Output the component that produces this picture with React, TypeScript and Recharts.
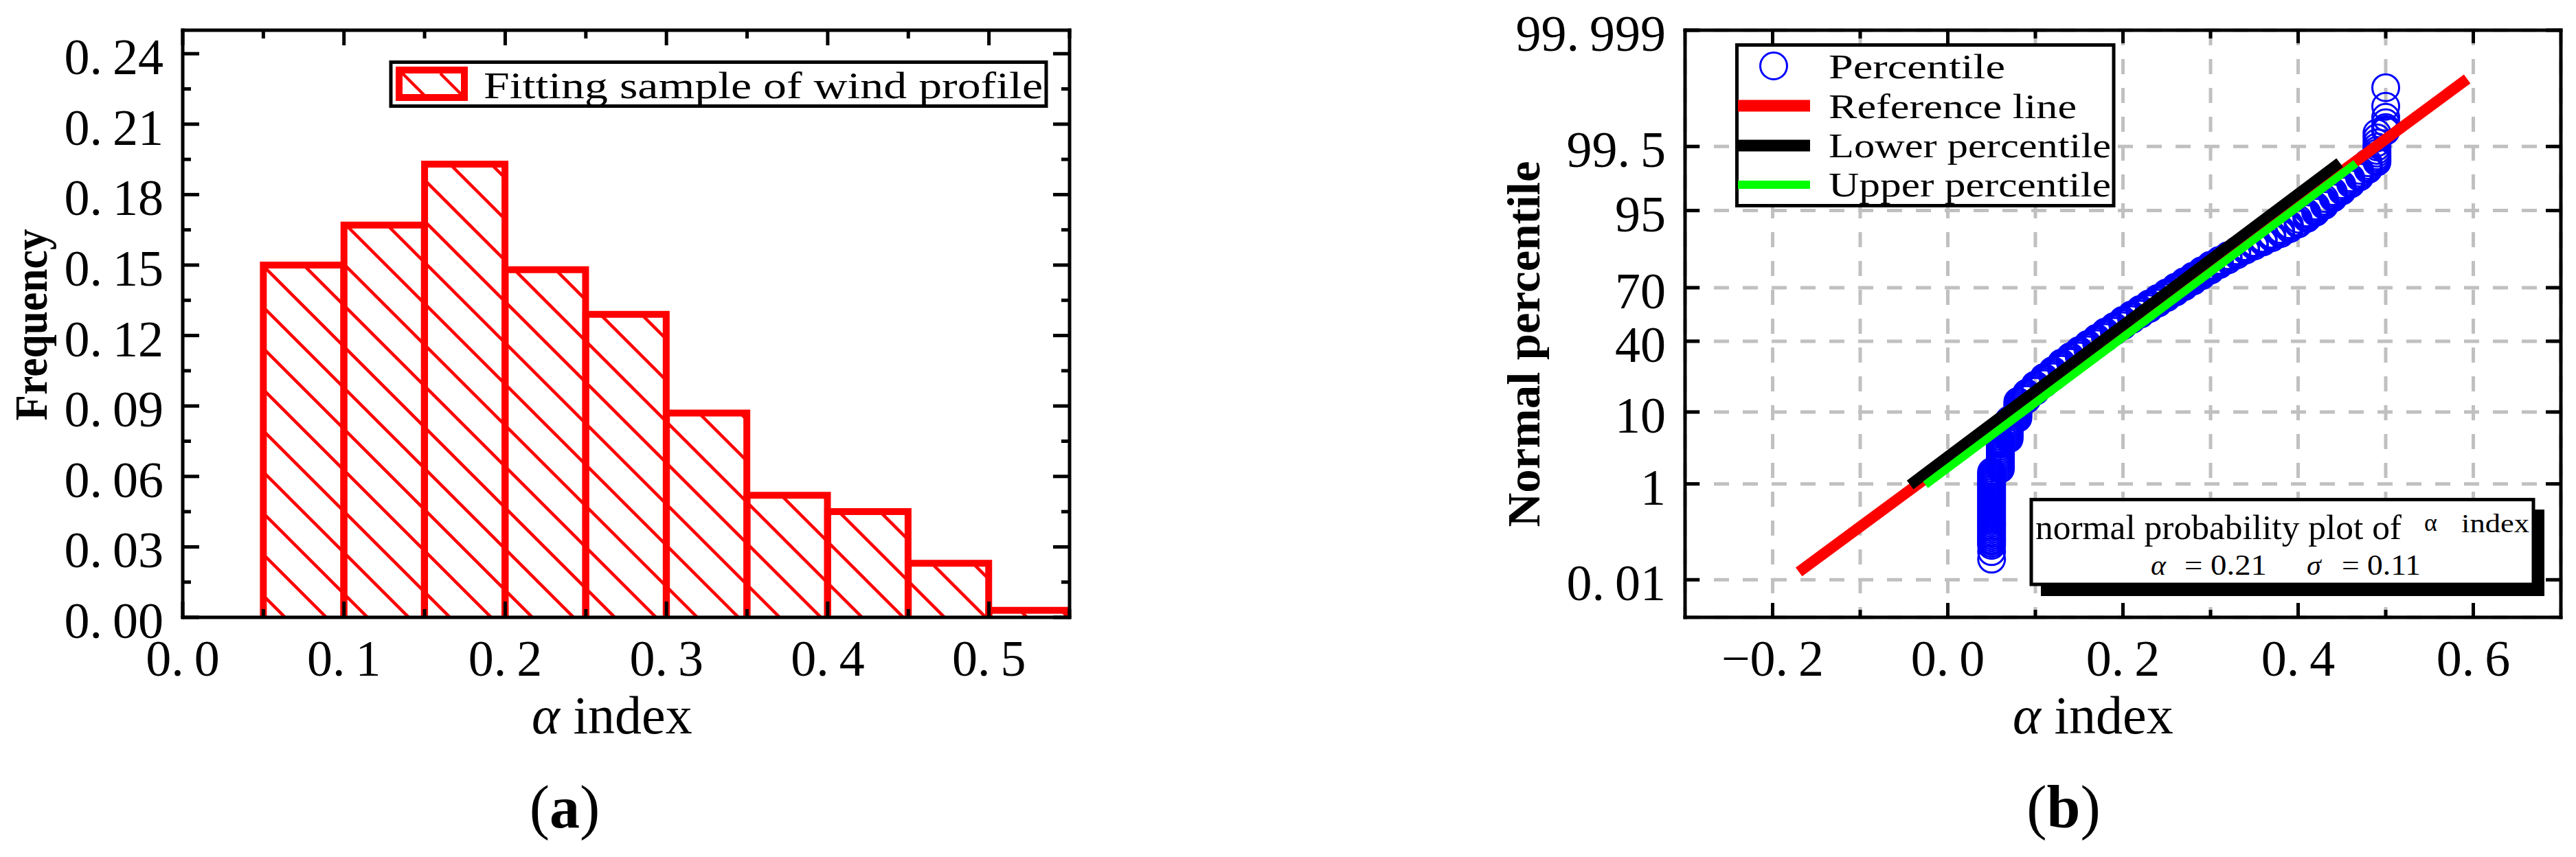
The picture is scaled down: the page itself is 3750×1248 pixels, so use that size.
import React from 'react';
import { ComposedChart, Bar, XAxis, YAxis, Scatter, Line, CartesianGrid } from 'recharts';

const SERIF = '"Liberation Serif", "DejaVu Serif", serif';

// ---------- Panel (a): histogram ----------
const binCenters = [0.075, 0.125, 0.175, 0.225, 0.275, 0.325, 0.375, 0.425, 0.475, 0.525];
const binFrequency = [0.150, 0.167, 0.193, 0.148, 0.129, 0.087, 0.052, 0.045, 0.023, 0.003];
const histXTicks = [0, 0.05, 0.1, 0.15, 0.2, 0.25, 0.3, 0.35, 0.4, 0.45, 0.5, 0.55];
const histXLabels = ['0.0', '', '0.1', '', '0.2', '', '0.3', '', '0.4', '', '0.5', ''];
const histYTicks = [0, 0.015, 0.03, 0.045, 0.06, 0.075, 0.09, 0.105, 0.12, 0.135, 0.15, 0.165, 0.18, 0.195, 0.21, 0.225, 0.24];
const histYLabels = ['0.00', '', '0.03', '', '0.06', '', '0.09', '', '0.12', '', '0.15', '', '0.18', '', '0.21', '', '0.24'];

// ---------- Panel (b): normal probability plot ----------
const probAlpha = [0.05, 0.06, 0.07, 0.08, 0.09, 0.10, 0.11, 0.12, 0.13, 0.14, 0.15, 0.16, 0.17, 0.18, 0.19, 0.20, 0.21, 0.22, 0.23, 0.24, 0.25, 0.26, 0.27, 0.28, 0.29, 0.30, 0.31, 0.32, 0.33, 0.34, 0.35, 0.36, 0.37, 0.38, 0.39, 0.40, 0.41, 0.42, 0.43, 0.44, 0.45, 0.46, 0.47, 0.48, 0.49, 0.50];
const probZ = [
  [-3.42, -3.31, -3.22, -3.19, -3.16, -3.14, -3.11, -3.08, -3.05, -3.02, -2.99, -2.96, -2.93, -2.90, -2.87, -2.84, -2.81, -2.78, -2.75, -2.72, -2.69, -2.66, -2.63, -2.60, -2.57, -2.54, -2.51, -2.48, -2.45, -2.42, -2.39, -2.36, -2.33, -2.30, -2.27, -2.24, -2.21, -2.18, -2.15],
  [-2.11, -2.08, -2.05, -2.02, -1.99, -1.96, -1.93, -1.90, -1.87, -1.84, -1.81, -1.78, -1.75, -1.72, -1.69],
  [-1.67, -1.64, -1.61, -1.58, -1.55, -1.52, -1.49, -1.46, -1.43, -1.40],
  [-1.37, -1.34, -1.31, -1.28, -1.25, -1.22, -1.19, -1.16, -1.13],
  [-1.10, -1.07, -1.04, -1.01],
  [-0.98, -0.95, -0.92, -0.89],
  [-0.87, -0.84, -0.81, -0.78],
  [-0.77, -0.74, -0.71, -0.68],
  [-0.66, -0.63, -0.60, -0.57],
  [-0.56, -0.53, -0.50, -0.48],
  [-0.47, -0.44, -0.41, -0.39],
  [-0.38, -0.35, -0.32, -0.30],
  [-0.29, -0.26, -0.23, -0.21],
  [-0.20, -0.17, -0.14, -0.12],
  [-0.11, -0.08, -0.06, -0.04],
  [-0.03, 0.00, 0.03, 0.05],
  [0.06, 0.09, 0.11, 0.13],
  [0.14, 0.17, 0.19, 0.21],
  [0.22, 0.25, 0.27, 0.29],
  [0.30, 0.33, 0.35, 0.37],
  [0.38, 0.41, 0.43, 0.45],
  [0.46, 0.49, 0.51, 0.53],
  [0.54, 0.57, 0.59, 0.61],
  [0.62, 0.65, 0.67, 0.69],
  [0.70, 0.73, 0.75, 0.77],
  [0.78, 0.81, 0.83, 0.85],
  [0.86, 0.89, 0.92],
  [0.93, 0.96, 0.99],
  [1.00, 1.03, 1.06],
  [1.07, 1.10, 1.12],
  [1.13, 1.16, 1.18],
  [1.19, 1.22, 1.24],
  [1.25, 1.28, 1.30],
  [1.31, 1.34, 1.37],
  [1.38, 1.41, 1.44],
  [1.45, 1.48, 1.52],
  [1.53, 1.56, 1.59, 1.61],
  [1.62, 1.65, 1.68, 1.71],
  [1.72, 1.75, 1.78, 1.82],
  [1.83, 1.86, 1.89, 1.92],
  [1.93, 1.96, 1.99, 2.02],
  [2.03, 2.06, 2.09, 2.12],
  [2.13, 2.16, 2.19, 2.23],
  [2.24, 2.27, 2.30, 2.34],
  [2.35, 2.38, 2.41, 2.44, 2.48, 2.52, 2.57, 2.63, 2.70, 2.77],
  [2.80, 2.82, 2.85, 2.92, 3.00, 3.16, 3.43],
];
const referenceLine = [{ x: -0.170, y: -3.605 }, { x: 0.593, y: 3.556 }];
const lowerPercentileLine = [{ x: -0.043, y: -2.34 }, { x: 0.4475, y: 2.34 }];
const upperPercentileLine = [{ x: -0.0255, y: -2.34 }, { x: 0.466, y: 2.33 }];
const probXTicks = [-0.2, -0.1, 0, 0.1, 0.2, 0.3, 0.4, 0.5, 0.6];
const probXLabels = ['\u22120.2', '', '0.0', '', '0.2', '', '0.4', '', '0.6'];
const probYTicks = [-3.719, -2.326, -1.2816, -0.2533, 0.5244, 1.6449, 2.5758, 4.2649];
const probYLabels = ['0.01', '1', '10', '40', '70', '95', '99.5', '99.999'];

const histData = binCenters.map((x, i) => ({ x, f: binFrequency[i] }));
const percentilePoints = probAlpha.flatMap((a, i) => probZ[i].map((z) => ({ x: a, y: z })));

// ---------- helpers ----------
const TickText = ({ text, ...rest }: any) => {
  const i = text.indexOf('.');
  if (i < 0) return <text {...rest}>{text}</text>;
  return (
    <text {...rest}>
      {text.slice(0, i + 1)}
      <tspan dx={15}>{text.slice(i + 1)}</tspan>
    </text>
  );
};

type Side = 'bottom' | 'top' | 'left' | 'right';
const makeTick = (side: Side, ticks: number[], labels: string[], majorLen: number, minorLen: number, showLabel: boolean) =>
  (props: any) => {
    const { x, y, payload } = props;
    const v = payload.value;
    const idx = ticks.findIndex((t) => Math.abs(t - v) < 1e-9);
    const label = idx >= 0 ? labels[idx] : '';
    const len = label !== '' ? majorLen : minorLen;
    let line;
    if (side === 'bottom') line = <line x1={x} x2={x} y1={y} y2={y - len} />;
    else if (side === 'top') line = <line x1={x} x2={x} y1={y} y2={y + len} />;
    else if (side === 'left') line = <line x1={x} x2={x + len} y1={y} y2={y} />;
    else line = <line x1={x} x2={x - len} y1={y} y2={y} />;
    return (
      <g>
        <g stroke="#000" strokeWidth={5}>{line}</g>
        {showLabel && label !== '' && side === 'bottom' && (
          <TickText text={label} x={x} y={y + 85} textAnchor="middle" fontFamily={SERIF} fontSize={74} fill="#000" stroke="none" />
        )}
        {showLabel && label !== '' && side === 'left' && (
          <TickText text={label} x={x - 28} y={y + 30} textAnchor="end" fontFamily={SERIF} fontSize={74} fill="#000" stroke="none" />
        )}
      </g>
    );
  };

const axisLineStyle = { stroke: '#000', strokeWidth: 5, strokeLinecap: 'square' as const };

const HatchBar = (props: any) => {
  const { x, y, width, height } = props;
  if (width == null || height == null) return null;
  return (
    <g>
      <rect x={x} y={y} width={width} height={height} fill="url(#hatchA)" />
      <path
        d={`M${x},${y + height} L${x},${y} L${x + width},${y} L${x + width},${y + height}`}
        fill="none"
        stroke="#ff0000"
        strokeWidth={10}
      />
    </g>
  );
};

const RingShape = (props: any) => (
  <circle cx={props.cx} cy={props.cy} r={19.5} fill="none" stroke="#0000ff" strokeWidth={3} />
);

// ---------- charts ----------
// each axis has a 1px box so that it renders; margins compensate so plot areas match the reference
const HistogramChart = () => (
  <ComposedChart
    width={1650}
    height={1248}
    data={histData}
    margin={{ top: 43, right: 92, bottom: 348, left: 265 }}
    barCategoryGap={0}
    barGap={0}
  >
    <XAxis dataKey="x" type="number" domain={[0, 0.55]} allowDataOverflow ticks={histXTicks} interval={0}
      height={1} tickSize={0} tickMargin={0} tickLine={false} axisLine={axisLineStyle}
      tick={makeTick('bottom', histXTicks, histXLabels, 23, 12, true)} />
    <XAxis xAxisId="top" orientation="top" dataKey="x" type="number" domain={[0, 0.55]} allowDataOverflow ticks={histXTicks} interval={0}
      height={1} tickSize={0} tickMargin={0} tickLine={false} axisLine={axisLineStyle}
      tick={makeTick('top', histXTicks, histXLabels, 22, 12, false)} />
    <YAxis type="number" domain={[0, 0.25]} allowDataOverflow ticks={histYTicks} interval={0}
      width={1} tickSize={0} tickMargin={0} tickLine={false} axisLine={axisLineStyle}
      tick={makeTick('left', histYTicks, histYLabels, 24, 12, true)} />
    <YAxis yAxisId="right" orientation="right" type="number" domain={[0, 0.25]} allowDataOverflow ticks={histYTicks} interval={0}
      width={1} tickSize={0} tickMargin={0} tickLine={false} axisLine={axisLineStyle}
      tick={makeTick('right', histYTicks, histYLabels, 24, 12, false)} />
    <Bar dataKey="f" isAnimationActive={false} shape={HatchBar} />
  </ComposedChart>
);

const ProbabilityChart = () => (
  <ComposedChart
    width={1650}
    height={1248}
    margin={{ top: 43, right: 21, bottom: 348, left: 352 }}
  >
    <CartesianGrid stroke="#c0c0c0" strokeWidth={5} strokeDasharray="22 20" />
    <XAxis dataKey="x" type="number" domain={[-0.3, 0.7]} allowDataOverflow ticks={probXTicks} interval={0}
      height={1} tickSize={0} tickMargin={0} tickLine={false} axisLine={axisLineStyle}
      tick={makeTick('bottom', probXTicks, probXLabels, 21, 11, true)} />
    <XAxis xAxisId="top" orientation="top" dataKey="x" type="number" domain={[-0.3, 0.7]} allowDataOverflow ticks={probXTicks} interval={0}
      height={1} tickSize={0} tickMargin={0} tickLine={false} axisLine={axisLineStyle}
      tick={makeTick('top', probXTicks, probXLabels, 19, 12, false)} />
    <YAxis dataKey="y" type="number" domain={[-4.2649, 4.2649]} allowDataOverflow ticks={probYTicks} interval={0}
      width={1} tickSize={0} tickMargin={0} tickLine={false} axisLine={axisLineStyle}
      tick={makeTick('left', probYTicks, probYLabels, 21, 21, true)} />
    <YAxis yAxisId="right" orientation="right" dataKey="y" type="number" domain={[-4.2649, 4.2649]} allowDataOverflow ticks={probYTicks} interval={0}
      width={1} tickSize={0} tickMargin={0} tickLine={false} axisLine={axisLineStyle}
      tick={makeTick('right', probYTicks, probYLabels, 22, 22, false)} />
    <Scatter data={percentilePoints} dataKey="y" isAnimationActive={false} shape={RingShape} zIndex={350} />
    <Line data={referenceLine} dataKey="y" type="linear" stroke="#ff0000" strokeWidth={16} dot={false} activeDot={false} isAnimationActive={false} zIndex={700} />
    <Line data={lowerPercentileLine} dataKey="y" type="linear" stroke="#000000" strokeWidth={16} dot={false} activeDot={false} isAnimationActive={false} zIndex={710} />
    <Line data={upperPercentileLine} dataKey="y" type="linear" stroke="#00ff00" strokeWidth={12} dot={false} activeDot={false} isAnimationActive={false} zIndex={720} />
  </ComposedChart>
);

const Overlay = () => (
  <svg width={3750} height={1248} style={{ position: 'absolute', left: 0, top: 0, pointerEvents: 'none' }}>
    {/* axis titles panel (a) */}
    <text transform="translate(68,473) rotate(-90)" textAnchor="middle" fontFamily={SERIF} fontWeight="bold" fontSize={68}
      textLength={279} lengthAdjust="spacingAndGlyphs" fill="#000">Frequency</text>
    <text x={774} y={1068} fontFamily={SERIF} fontSize={78} fill="#000">
      <tspan fontStyle="italic">α</tspan> index
    </text>
    <text x={822} y={1205} textAnchor="middle" fontFamily={SERIF} fontSize={88} fill="#000">
      (<tspan fontWeight="bold">a</tspan>)
    </text>

    {/* legend panel (a) */}
    <rect x={569} y={90.5} width={954} height={64} fill="#fff" stroke="#000" strokeWidth={5} />
    <g stroke="#ff0000" strokeWidth={4.5}>
      <line x1={586} y1={107} x2={619} y2={140} />
      <line x1={641} y1={107} x2={674} y2={140} />
    </g>
    <rect x={581} y={102} width={95} height={40} fill="none" stroke="#ff0000" strokeWidth={10} />
    <text x={704} y={143} fontFamily={SERIF} fontSize={54} textLength={814} lengthAdjust="spacingAndGlyphs" fill="#000">
      Fitting sample of wind profile
    </text>

    {/* axis titles panel (b) */}
    <text transform="translate(2241,501) rotate(-90)" textAnchor="middle" fontFamily={SERIF} fontWeight="bold" fontSize={68}
      textLength={533} lengthAdjust="spacingAndGlyphs" fill="#000">Normal percentile</text>
    <text x={2930} y={1068} fontFamily={SERIF} fontSize={78} fill="#000">
      <tspan fontStyle="italic">α</tspan> index
    </text>
    <text x={3004} y={1205} textAnchor="middle" fontFamily={SERIF} fontSize={88} fill="#000">
      (<tspan fontWeight="bold">b</tspan>)
    </text>

    {/* legend panel (b) */}
    <rect x={2528.5} y={65.5} width={548.5} height={234} fill="#fff" stroke="#000" strokeWidth={5} />
    <circle cx={2582} cy={96} r={19.5} fill="none" stroke="#0000ff" strokeWidth={3} />
    <line x1={2530} x2={2635} y1={154} y2={154} stroke="#ff0000" strokeWidth={17} />
    <line x1={2530} x2={2635} y1={212} y2={212} stroke="#000000" strokeWidth={17} />
    <line x1={2530} x2={2635} y1={269} y2={269} stroke="#00ff00" strokeWidth={12} />
    <g fontFamily={SERIF} fontSize={51} fill="#000">
      <text x={2662} y={114} textLength={257} lengthAdjust="spacingAndGlyphs">Percentile</text>
      <text x={2662} y={172} textLength={361} lengthAdjust="spacingAndGlyphs">Reference line</text>
      <text x={2662} y={229} textLength={411} lengthAdjust="spacingAndGlyphs">Lower percentile</text>
      <text x={2662} y={286} textLength={411} lengthAdjust="spacingAndGlyphs">Upper percentile</text>
    </g>

    {/* statistics box panel (b) */}
    <rect x={2971} y={742} width={733} height={126} fill="#000" />
    <rect x={2957} y={727.5} width={731} height={123.5} fill="#fff" stroke="#000" strokeWidth={5} />
    <g fontFamily={SERIF} fill="#000">
      <text x={2963} y={785} fontSize={50} textLength={533} lengthAdjust="spacingAndGlyphs">normal probability plot of</text>
      <text x={3529} y={773} fontSize={36}>α</text>
      <text x={3583} y={775} fontSize={38} textLength={99} lengthAdjust="spacingAndGlyphs">index</text>
      <text x={3131} y={837} fontSize={42} fontStyle="italic">α</text>
      <text x={3180} y={837} fontSize={43} textLength={120} lengthAdjust="spacingAndGlyphs">= 0.21</text>
      <text x={3358} y={837} fontSize={42} fontStyle="italic">σ</text>
      <text x={3409} y={837} fontSize={43} textLength={115} lengthAdjust="spacingAndGlyphs">= 0.11</text>
    </g>
  </svg>
);

export default function App() {
  return (
    <div style={{ position: 'absolute', left: 0, top: 0, width: 3750, height: 1248, background: '#fff', overflow: 'hidden' }}>
      <svg width={0} height={0} style={{ position: 'absolute' }}>
        <defs>
          <pattern id="hatchA" patternUnits="userSpaceOnUse" x={0} y={4} width={60} height={60}>
            <path d="M-15,-15 L75,75 M-15,45 L15,75 M45,-15 L75,15" stroke="#ff0000" strokeWidth={4.5} fill="none" />
          </pattern>
        </defs>
      </svg>
      <div style={{ position: 'absolute', left: 0, top: 0 }}>
        <HistogramChart />
      </div>
      <div style={{ position: 'absolute', left: 2100, top: 0 }}>
        <ProbabilityChart />
      </div>
      <Overlay />
    </div>
  );
}
